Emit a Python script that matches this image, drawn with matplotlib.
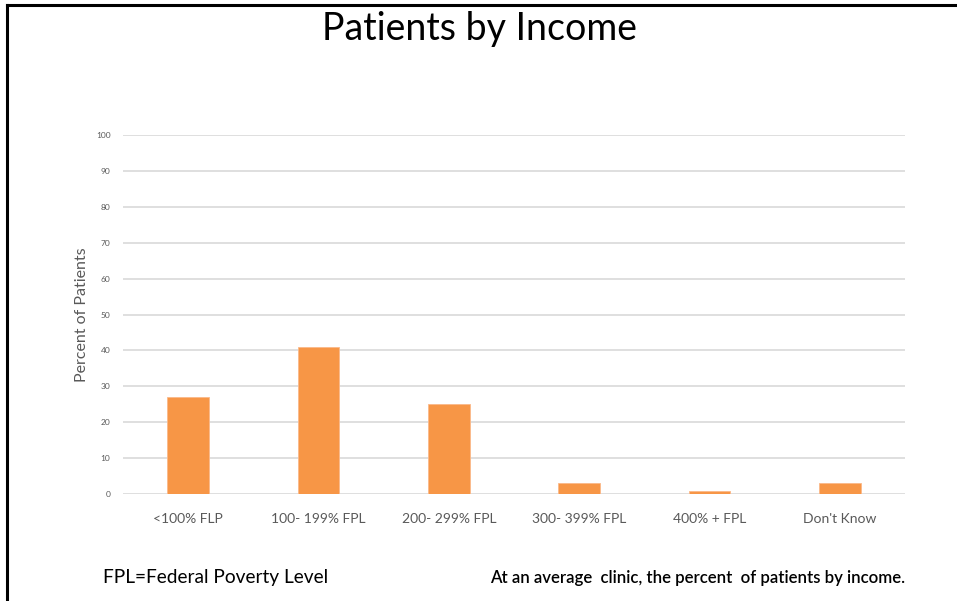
import matplotlib
matplotlib.use("Agg")
import matplotlib.pyplot as plt
from matplotlib.lines import Line2D

plt.rcParams["font.family"] = ["Lato", "DejaVu Sans"]

categories = ["<100% FLP", "100- 199% FPL", "200- 299% FPL", "300- 399% FPL", "400% + FPL", "Don't Know"]
percent = [27, 41, 25, 3, 0.7, 3]
y_ticks = [0, 10, 20, 30, 40, 50, 60, 70, 80, 90, 100]

BAR = "#F79646"
GRID = "#D9D9D9"
LABEL = "#595959"

W, H = 957, 601
fig = plt.figure(figsize=(W / 100, H / 100), dpi=100)
ax = fig.add_axes([123 / W, (H - 494) / H, (905 - 123) / W, (494 - 135) / H])

x = range(len(categories))
ax.bar(x, percent, width=0.32, color=BAR, edgecolor="#FBB98A", linewidth=0.6, zorder=3)
ax.set_xlim(-0.5, len(categories) - 0.5)
ax.set_ylim(0, 100)
ax.set_yticks(y_ticks)
ax.set_yticklabels([str(t) for t in y_ticks], fontsize=6, color=LABEL)
ax.set_xticks(list(x))
ax.set_xticklabels(categories, fontsize=10, color=LABEL)
ax.tick_params(axis="both", length=0)
ax.tick_params(axis="y", pad=9)
ax.tick_params(axis="x", pad=14)
ax.grid(axis="y", color=GRID, linewidth=1.2, zorder=0)
for s in ax.spines.values():
    s.set_visible(False)
ax.set_ylabel("Percent of Patients", fontsize=11.5, color=LABEL, labelpad=5)

fig.text(480 / W, 1 - 29 / H, "Patients by Income", ha="center", va="center", fontsize=27, color="black")
fig.text(103 / W, 1 - 577 / H, "FPL=Federal Poverty Level", ha="left", va="center", fontsize=13.8, color="black")
fig.text(905 / W, 1 - 578 / H, "At an average  clinic, the percent  of patients by income.",
         ha="right", va="center", fontsize=12.1, fontweight="semibold", color="black")

# frame lines on the left and top edges
fig.add_artist(Line2D([7.5 / W, 7.5 / W], [0, 1 - 5 / H], transform=fig.transFigure, color="black", linewidth=2.2))
fig.add_artist(Line2D([7.5 / W, 1], [1 - 5 / H, 1 - 5 / H], transform=fig.transFigure, color="black", linewidth=2.2))

fig.savefig("out.png", dpi=100)
